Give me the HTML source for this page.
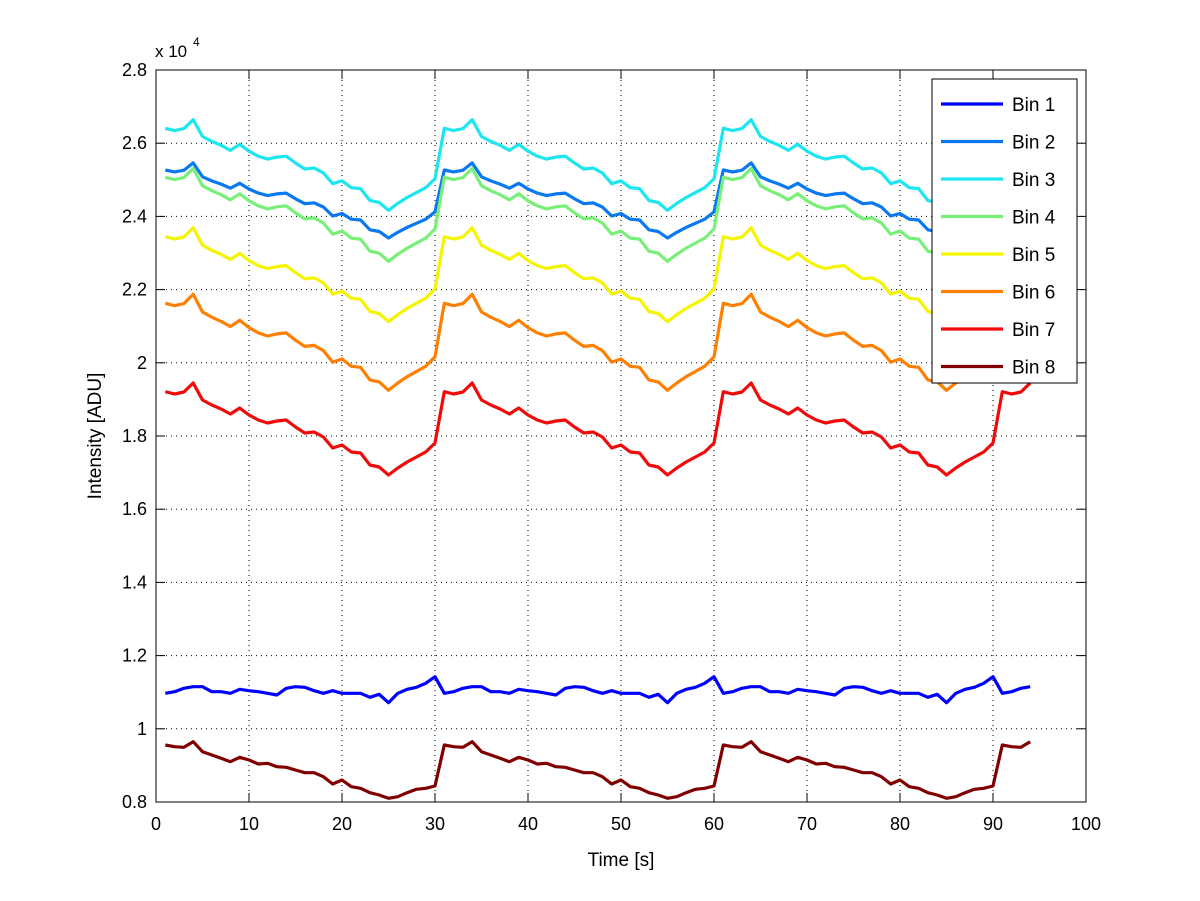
<!DOCTYPE html>
<html><head><meta charset="utf-8"><style>
html,body{margin:0;padding:0;background:#fff;}
svg{display:block;font-family:"Liberation Sans",sans-serif;}
</style></head><body>
<svg id="s" width="1200" height="901" xmlns="http://www.w3.org/2000/svg">
<rect x="0" y="0" width="1200" height="901" fill="#fff"/>
<g id="grid"></g>
<g id="lines"></g>
<rect x="156" y="70" width="930" height="732" fill="none" stroke="#000" stroke-width="1"/>
<g id="ticks" font-size="18"></g>
<text x="155" y="57" font-size="17">x 10</text><text x="193" y="46" font-size="12">4</text>
<text x="621" y="866" font-size="19" text-anchor="middle">Time [s]</text>
<text transform="translate(101,436) rotate(-90)" font-size="19" text-anchor="middle">Intensity [ADU]</text>
<g id="legend"></g>
</svg>
<script>
const NS="http://www.w3.org/2000/svg";
function el(p,t,a,txt){const e=document.createElementNS(NS,t);for(const k in a)e.setAttribute(k,a[k]);if(txt!==undefined)e.textContent=txt;document.getElementById(p).appendChild(e);return e;}
const X=t=>156+t*9.3, Y=v=>802-(v-0.8)*366;
for(let i=0;i<=10;i++){const x=X(i*10);
 if(i>0&&i<10)el('grid','line',{x1:x,y1:70,x2:x,y2:802,stroke:'#000','stroke-dasharray':'1,4','stroke-width':1});
 el('ticks','line',{x1:x,y1:802,x2:x,y2:793,stroke:'#000'});el('ticks','line',{x1:x,y1:70,x2:x,y2:79,stroke:'#000'});
 el('ticks','text',{x:x,y:830,'text-anchor':'middle'},String(i*10));}
const yl=['0.8','1','1.2','1.4','1.6','1.8','2','2.2','2.4','2.6','2.8'];
for(let i=0;i<=10;i++){const y=Y(0.8+i*0.2);
 if(i>0&&i<10)el('grid','line',{x1:156,y1:y,x2:1086,y2:y,stroke:'#000','stroke-dasharray':'1,4','stroke-width':1});
 el('ticks','line',{x1:156,y1:y,x2:165,y2:y,stroke:'#000'});el('ticks','line',{x1:1086,y1:y,x2:1077,y2:y,stroke:'#000'});
 el('ticks','text',{x:147,y:y+6,'text-anchor':'end'},yl[i]);}
const red=[391.7,394,392,383,400,405,409,414,408,415,420,423,421,420,427,433,432,437,448,445,452,453,465,467,475,468,462,457,452,443];
const d=red.map(v=>(v-391.7)/83.3);
const b1=[100,95,85,80,80,95,95,100,88,92,95,100,105,85,80,82,92,100,92,100,100,100,112,103,128,100,88,82,70,50].map(v=>v/3+660);
const b8=[255,260,262,245,275,285,295,305,292,300,312,310,320,322,330,338,338,350,372,360,380,385,398,405,415,410,398,388,385,378].map(v=>v/3+660);
function mk(y1,a){return d.map(v=>y1+v*a);}
const series=[
 ['#0000ff',b1],['#0a78f0',mk(170,68)],['#1ee6f0',mk(128.3,82)],['#78f078',mk(177.3,84)],
 ['#f5f500',mk(236.7,85)],['#ff8000',mk(303.3,87)],['#f00a0a',mk(391.7,83.3)],['#800000',b8]];
series.forEach(([c,arr])=>{let pts=[];for(let t=1;t<=94;t++){pts.push(X(t).toFixed(1)+','+arr[(t-1)%30].toFixed(1));}
 el('lines','polyline',{points:pts.join(' '),fill:'none',stroke:c,'stroke-width':3.2,'stroke-linejoin':'round'});});
el('legend','rect',{x:932,y:79,width:145,height:304,fill:'#fff',stroke:'#000'});
series.forEach(([c],i)=>{const y=104+i*37.5;el('legend','line',{x1:941,y1:y,x2:1003,y2:y,stroke:c,'stroke-width':3.2});
 el('legend','text',{x:1012,y:y+7,'font-size':19},'Bin '+(i+1));});
</script>
</body></html>
